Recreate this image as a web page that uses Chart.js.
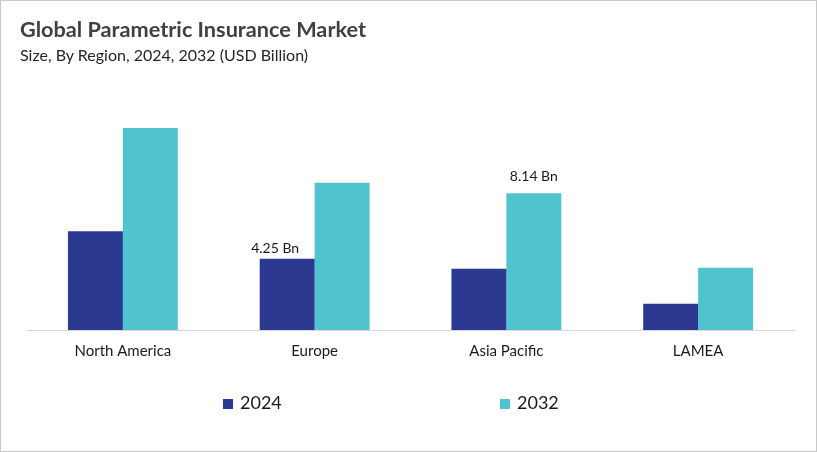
<!DOCTYPE html>
<html>
<head>
<meta charset="utf-8">
<script src="https://cdn.jsdelivr.net/npm/chart.js@4.4.0/dist/chart.umd.min.js"></script>
<style>
  body { margin: 0; background: #fff; }
  #wrap { position: relative; width: 817px; height: 452px; box-sizing: border-box; border: 1px solid #c8c8c8; font-family: Lato, "Open Sans", sans-serif; }
  #title { position: absolute; left: 19px; top: 15px; font-size: 21.7px; font-weight: bold; color: #404040; }
  #subtitle { position: absolute; left: 19px; top: 44px; font-size: 16px; color: #262626; }
  #legend { position: absolute; left: 0; top: 390px; width: 100%; height: 22px; }
  .item { position: absolute; top: 0; font-size: 18px; color: #1a1a1a; line-height: 22px; }
  .box { display: inline-block; width: 10px; height: 10px; margin-right: 7px; vertical-align: 0px; }
  canvas { position: absolute; left: 0; top: 0; }
</style>
</head>
<body>
<div id="wrap">
  <canvas id="marketChart" width="815" height="450"></canvas>
  <div id="title">Global Parametric Insurance Market</div>
  <div id="subtitle">Size, By Region, 2024, 2032 (USD Billion)</div>
  <div id="legend"></div>
</div>
<script>
var regions = ['North America', 'Europe', 'Asia Pacific', 'LAMEA'];
var values2024 = [5.89, 4.25, 3.65, 1.57];
var values2032 = [12.04, 8.77, 8.14, 3.71];
var labels2024 = [null, '4.25 Bn', null, null];
var labels2032 = [null, null, '8.14 Bn', null];
var seriesNames = ['2024', '2032'];
var seriesColors = ['#2b3990', '#4fc4cf'];
var legendX = [222, 499];

// small plugin for the two value labels
var valueLabels = {
	id: 'valueLabels',
	afterDatasetsDraw: function(chart) {
		var ctx = chart.ctx;
		var sets = [labels2024, labels2032];
		var offsets = [[-12, -10], [0, -17]];
		ctx.save();
		ctx.font = '14px Lato, "Open Sans", sans-serif';
		ctx.fillStyle = '#1a1a1a';
		ctx.textAlign = 'center';
		ctx.textBaseline = 'middle';
		sets.forEach(function(list, d) {
			var meta = chart.getDatasetMeta(d);
			list.forEach(function(txt, i) {
				if (!txt) return;
				var bar = meta.data[i];
				ctx.fillText(txt, bar.x + offsets[d][0], bar.y + offsets[d][1]);
			});
		});
		ctx.restore();
	}
};

var ctx = document.getElementById('marketChart');
var marketChart = new Chart(ctx, {
	type: 'bar',
	data: {
		labels: regions,
		datasets: [{
			label: seriesNames[0],
			data: values2024,
			backgroundColor: seriesColors[0]
		}, {
			label: seriesNames[1],
			data: values2032,
			backgroundColor: seriesColors[1]
		}]
	},
	options: {
		responsive: false,
		animation: false,
		layout: { padding: { left: 26, right: 22, top: 94, bottom: 79 } },
		datasets: { bar: { barPercentage: 1, categoryPercentage: 0.573 } },
		plugins: {
			legend: { display: false },
			title: { display: false },
			tooltip: { enabled: false }
		},
		scales: {
			x: {
				grid: { display: false, drawTicks: false },
				border: { display: true, color: '#d9d9d9', width: 1 },
				ticks: { padding: 12, color: '#1a1a1a', font: { family: 'Lato, "Open Sans", sans-serif', size: 15 } }
			},
			y: {
				display: false,
				min: 0,
				max: 14
			}
		}
	},
	plugins: [valueLabels]
});

// legend built from the series arrays
var legend = document.getElementById('legend');
seriesNames.forEach(function(name, i) {
	var item = document.createElement('div');
	item.className = 'item';
	item.style.left = legendX[i] + 'px';
	item.innerHTML = '<span class="box" style="background:' + seriesColors[i] + '"></span>' + name;
	legend.appendChild(item);
});
</script>
</body>
</html>
